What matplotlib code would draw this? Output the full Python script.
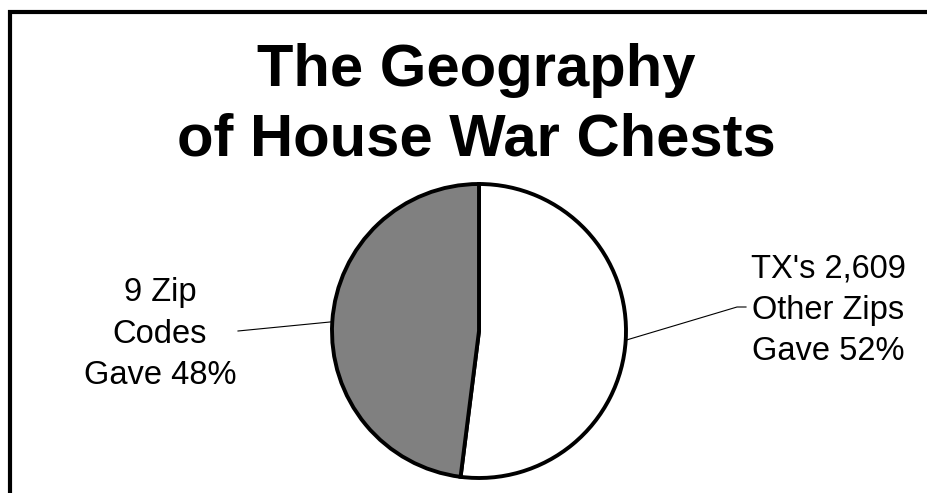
import numpy as np
import matplotlib.pyplot as plt
from matplotlib.patches import Rectangle

plt.rcParams['font.family'] = ['Liberation Sans', 'DejaVu Sans']

# data
title = 'The Geography\nof House War Chests'
groups = ["TX's 2,609 Other Zips", '9 Zip Codes']
shares = [52, 48]
colors = ['#ffffff', '#808080']
label_texts = ["TX's 2,609\nOther Zips\nGave 52%", '9 Zip\nCodes\nGave 48%']

W, H = 927, 493
fig = plt.figure(figsize=(W / 100, H / 100), dpi=100)
ax = fig.add_axes([0, 0, 1, 1])

# pie in pixel-like units (y from the bottom)
cx, cy, r = 479, H - 331, 147
wedges, _ = ax.pie(shares, colors=colors, startangle=90, counterclock=False,
                   center=(cx, cy), radius=r, frame=True,
                   wedgeprops=dict(edgecolor='black', linewidth=2.8))

ax.set_xlim(0, W)
ax.set_ylim(0, H)
ax.axis('off')

# title (va baseline -> last line baseline)
ax.text(476, H - 155, title, ha='center', va='baseline', fontsize=43,
        fontweight='bold', linespacing=1.33)

# label positions (text anchor at last baseline, leader end points)
text_pos = [(828, H - 360), (160, H - 384)]
leader_ends = [[(737, H - 307), (746, H - 307)], [(238, H - 331)]]

for w, txt, (tx, ty), ends in zip(wedges, label_texts, text_pos, leader_ends):
    mid = np.deg2rad((w.theta1 + w.theta2) / 2)
    ex, ey = cx + r * np.cos(mid), cy + r * np.sin(mid)
    xs = [ex] + [p[0] for p in ends]
    ys = [ey] + [p[1] for p in ends]
    ax.plot(xs, ys, color='black', lw=0.8)
    ax.text(tx, ty, txt, ha='center', va='baseline', fontsize=23.5,
            linespacing=1.43)

# frame around the chart (runs off the right and bottom)
ax.add_patch(Rectangle((10.5, -50), W + 100, H - 11.5 + 50, fill=False,
                       edgecolor='black', lw=3))

fig.savefig('out.png', dpi=100)
